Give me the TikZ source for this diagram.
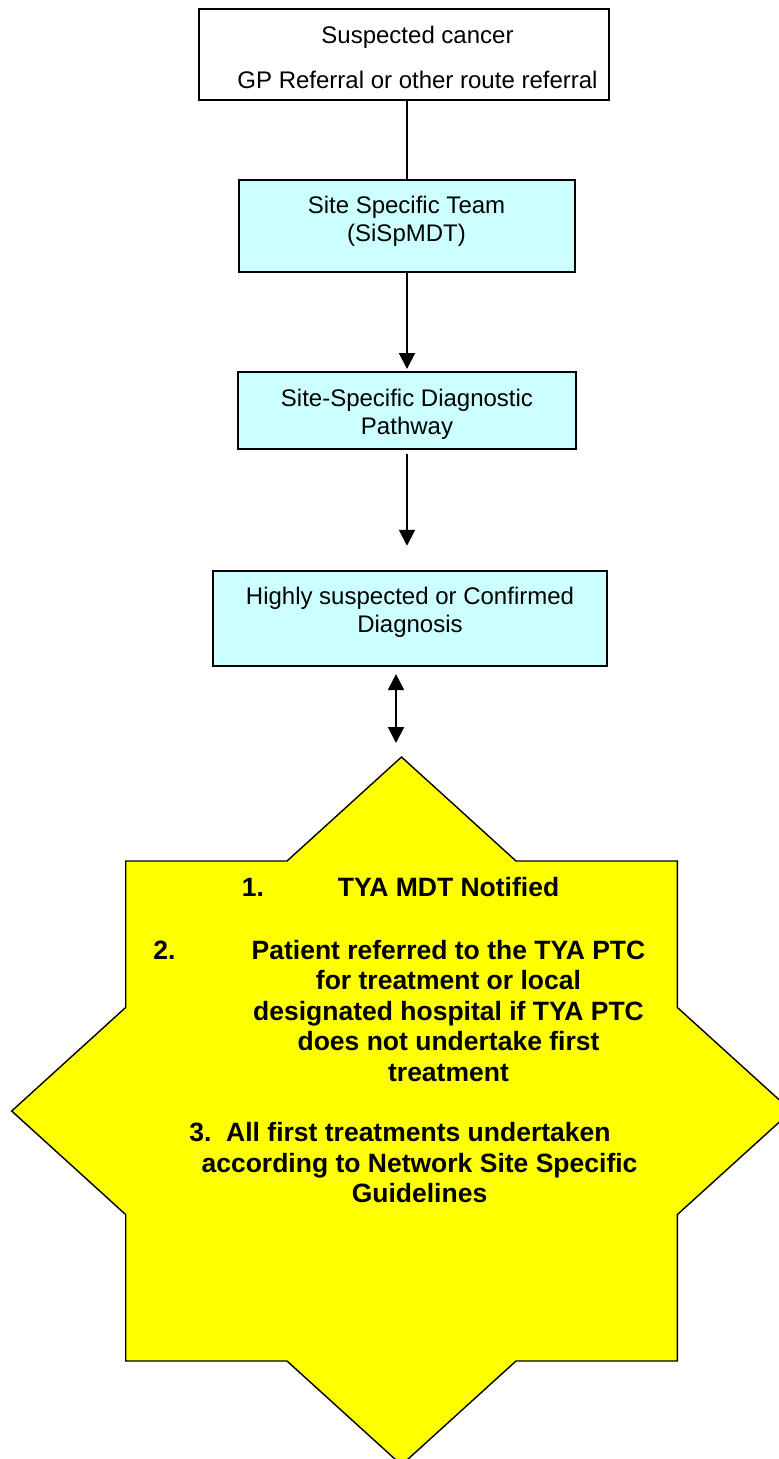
\documentclass[tikz,border=0pt]{standalone}
\usepackage{fontspec}
\setmainfont{Liberation Sans}
\usetikzlibrary{arrows.meta}
\definecolor{paleCyan}{HTML}{CCFFFF}
\definecolor{starYellow}{HTML}{FFFF00}
\begin{document}
\begin{tikzpicture}[x=1pt,y=-1pt,
  box/.style={draw=black, line width=2pt, inner sep=0pt},
  whitebox/.style={box, fill=white},
  cyanbox/.style={box, fill=paleCyan},
  boxtext/.style={font=\fontsize{24}{27.6}\selectfont, align=center, inner sep=0pt},
  startext/.style={font=\bfseries\fontsize{26.5}{30.5}\selectfont, align=center, inner sep=0pt},
  link/.style={line width=2pt, draw=black},
  arrowlink/.style={link, -{Triangle[length=16pt,width=16pt]}},
  twoway/.style={link, {Triangle[length=16pt,width=16pt]}-{Triangle[length=16pt,width=16pt]}},
  starshape/.style={draw=black, line width=1.4pt, fill=starYellow, line join=miter}
]
\useasboundingbox (0,0) rectangle (779,1459);
\clip (0,0) rectangle (779,1459);
\fill[white] (0,0) rectangle (779,1459);

% flow boxes
\node[whitebox, minimum width=410pt, minimum height=91pt] (gp) at (404,54.6) {};
\node[boxtext] (gptext) at (417.5,57.5) {Suspected cancer\\[17.4pt]GP Referral or other route referral};

\node[cyanbox, minimum width=336pt, minimum height=92pt] (team) at (407,226) {};
\node[boxtext] (teamtext) at (406.5,221.4) {Site Specific Team\\(SiSpMDT)};

\node[cyanbox, minimum width=338pt, minimum height=77pt] (path) at (407,410.5) {};
\node[boxtext] (pathtext) at (407,414) {Site-Specific Diagnostic\\Pathway};

\node[cyanbox, minimum width=393.4pt, minimum height=95.3pt] (diag) at (410,618.4) {};
\node[boxtext] (diagtext) at (410,612) {Highly suspected or Confirmed\\Diagnosis};

% eight-point star
\draw[starshape] (401.5,757) -- (516,861) -- (677.3,861) -- (677.3,1007.4)
  -- (791.5,1111) -- (677.3,1214.6) -- (677.3,1361) -- (516,1361)
  -- (401.5,1465) -- (287,1361) -- (125.7,1361) -- (125.7,1214.6)
  -- (11.7,1111) -- (125.7,1007.4) -- (125.7,861) -- (287,861) -- cycle;
\coordinate (startip) at (401.5,757);

% connectors
\draw[link] (team.north |- gp.south) -- (team.north);
\draw[arrowlink, shorten >=2pt] (team.south) -- (path.north);
\draw[arrowlink, shorten <=4pt, shorten >=24pt] (path.south) -- (path.south |- diag.north);
\draw[twoway, shorten <=7pt, shorten >=14pt] ([xshift=-14pt]diag.south) -- ([xshift=-14pt]diag.south |- startip);

% star text
\node[startext, anchor=base] (item1) at (400.5,896.5) {1.\hspace{74pt}TYA MDT Notified};
\node[startext, anchor=base] (item2num) at (164.5,959.5) {2.};
\node[startext] (item2) at (448.5,1011) {Patient referred to the TYA PTC\\for treatment or local\\designated hospital if TYA PTC\\does not undertake first\\treatment};
\node[startext] (item3) at (419.5,1163) {3.~~All first treatments undertaken\hspace*{39pt}\\according to Network Site Specific\\Guidelines};
\end{tikzpicture}
\end{document}
